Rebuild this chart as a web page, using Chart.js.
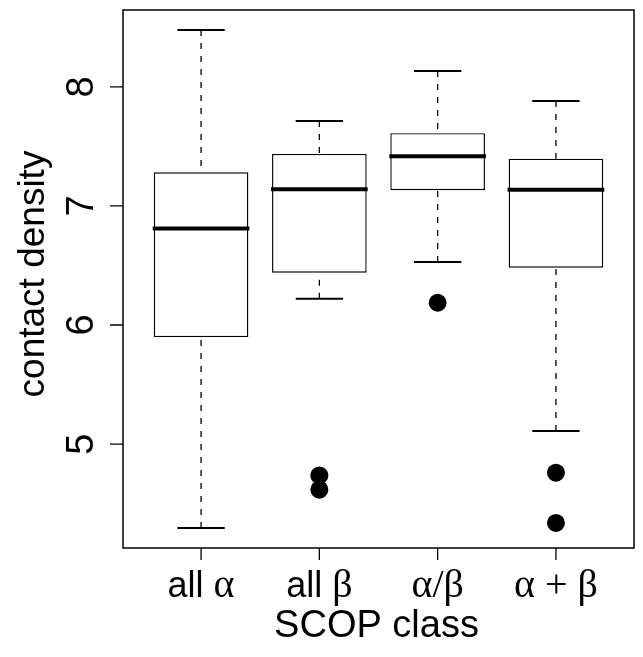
<!DOCTYPE html>
<html>
<head>
<meta charset="utf-8">
<script src="https://cdn.jsdelivr.net/npm/chart.js@4.4.1/dist/chart.umd.min.js"></script>
<style>
  html, body { margin: 0; padding: 0; background: #fff; overflow: hidden; }
  #wrap { width: 643px; height: 657px; position: relative; }
  canvas { display: block; }
</style>
</head>
<body>
<div id="wrap"><canvas id="boxChart"></canvas></div>
<script>
// SCOP classes and the box statistics
const classes = ['all α', 'all β', 'α/β', 'α + β'];
const whiskLo = [4.294, 6.221, 6.529, 5.109];
const q1 = [5.899, 6.440, 7.132, 6.482];
const median = [6.810, 7.140, 7.418, 7.137];
const q3 = [7.283, 7.437, 7.611, 7.397];
const whiskHi = [8.479, 7.714, 8.134, 7.882];
const outliers = [[], [4.737, 4.617], [6.187], [4.760, 4.338]];

const yTicks = [5, 6, 7, 8];
const xTicks = [1, 2, 3, 4];
const yMin = 4.127, yMax = 8.646;
const xMin = 0.34, xMax = 4.66;

const sans = '"Liberation Sans", Arial, sans-serif';
const serif = '"Liberation Serif", "Times New Roman", serif';

// split a label in runs: greek letters and math signs in serif, the rest in sans
function runsOf(text) {
    const runs = [];
    for (const ch of text) {
        let isSerif = /[\u0370-\u03ff\/+]/.test(ch);
        if (ch === ' ' && runs.length) isSerif = runs[runs.length - 1].serif;
        const last = runs[runs.length - 1];
        if (last && last.serif === isSerif) last.t += ch;
        else runs.push({ t: ch, serif: isSerif });
    }
    return runs;
}

function drawMixed(ctx, text, cx, base, size, greekSize) {
    const runs = runsOf(text);
    let total = 0;
    runs.forEach(r => {
        ctx.font = r.serif ? greekSize + 'px ' + serif : size + 'px ' + sans;
        r.w = ctx.measureText(r.t).width;
        total += r.w;
    });
    let xx = cx - total / 2;
    ctx.textAlign = 'left';
    ctx.textBaseline = 'alphabetic';
    runs.forEach(r => {
        ctx.font = r.serif ? greekSize + 'px ' + serif : size + 'px ' + sans;
        ctx.fillText(r.t, xx, base);
        xx += r.w;
    });
}

const boxExtras = {
    id: 'boxExtras',
    afterDatasetsDraw(chart) {
        const { ctx, chartArea: a, scales: { x, y } } = chart;
        const bars = chart.getDatasetMeta(0).data;
        ctx.save();
        ctx.strokeStyle = '#000';
        ctx.fillStyle = '#000';
        ctx.lineCap = 'butt';

        bars.forEach((bar, i) => {
            const cx = x.getPixelForValue(xTicks[i]);
            const w = bar.width;
            // dashed whiskers, from the whisker end toward the box
            ctx.lineWidth = 1.3;
            ctx.setLineDash([6, 7]);
            ctx.beginPath();
            ctx.moveTo(cx, y.getPixelForValue(whiskHi[i]));
            ctx.lineTo(cx, y.getPixelForValue(q3[i]));
            ctx.moveTo(cx, y.getPixelForValue(whiskLo[i]));
            ctx.lineTo(cx, y.getPixelForValue(q1[i]));
            ctx.stroke();
            ctx.setLineDash([]);
            // caps
            ctx.lineWidth = 2;
            ctx.beginPath();
            [whiskHi[i], whiskLo[i]].forEach(v => {
                const py = y.getPixelForValue(v);
                ctx.moveTo(cx - w / 4, py);
                ctx.lineTo(cx + w / 4, py);
            });
            ctx.stroke();
            // median
            ctx.lineWidth = 4;
            ctx.beginPath();
            const pm = y.getPixelForValue(median[i]);
            ctx.moveTo(cx - w / 2 - 1, pm);
            ctx.lineTo(cx + w / 2 + 1, pm);
            ctx.stroke();
        });

        // frame
        ctx.lineWidth = 1.5;
        ctx.strokeRect(a.left, a.top, a.right - a.left, a.bottom - a.top);

        // tick marks
        ctx.lineWidth = 1.3;
        ctx.beginPath();
        yTicks.forEach(v => {
            const py = y.getPixelForValue(v);
            ctx.moveTo(a.left - 13, py);
            ctx.lineTo(a.left, py);
        });
        xTicks.forEach(v => {
            const px = x.getPixelForValue(v);
            ctx.moveTo(px, a.bottom);
            ctx.lineTo(px, a.bottom + 12);
        });
        ctx.stroke();

        // y tick labels, parallel to the axis
        ctx.textAlign = 'center';
        ctx.textBaseline = 'alphabetic';
        ctx.font = '38px ' + sans;
        yTicks.forEach(v => {
            ctx.save();
            ctx.translate(a.left - 30, y.getPixelForValue(v));
            ctx.rotate(-Math.PI / 2);
            ctx.fillText(String(v), 0, 0);
            ctx.restore();
        });

        // x tick labels
        classes.forEach((c, i) => {
            drawMixed(ctx, c, x.getPixelForValue(xTicks[i]), a.bottom + 49, 36, 40);
        });

        // axis titles
        ctx.textAlign = 'center';
        ctx.font = '37px ' + sans;
        ctx.save();
        ctx.translate(a.left - 79, (a.top + a.bottom) / 2 - 5);
        ctx.rotate(-Math.PI / 2);
        ctx.fillText('contact density', 0, 0);
        ctx.restore();
        ctx.font = '38px ' + sans;
        ctx.fillText('SCOP class', (a.left + a.right) / 2 - 2, a.bottom + 89);

        ctx.restore();
    }
};

const ctx = document.getElementById('boxChart').getContext('2d');
const boxChart = new Chart(ctx, {
    type: 'bar',
    data: {
        datasets: [{
            label: 'box',
            data: q1.map((v, i) => ({ x: xTicks[i], y: [v, q3[i]] })),
            backgroundColor: '#fff',
            borderColor: '#000',
            borderWidth: 1.4,
            borderSkipped: false,
            barPercentage: 0.8,
            categoryPercentage: 1
        }, {
            type: 'scatter',
            label: 'outliers',
            data: outliers.flatMap((arr, i) => arr.map(v => ({ x: xTicks[i], y: v }))),
            backgroundColor: '#000',
            borderWidth: 0,
            pointRadius: 9,
            pointHoverRadius: 9
        }]
    },
    options: {
        responsive: true,
        maintainAspectRatio: false,
        animation: false,
        devicePixelRatio: 1,
        layout: { padding: { left: 123, top: 10, right: 1, bottom: 109 } },
        plugins: { legend: { display: false }, tooltip: { enabled: false } },
        scales: {
            x: {
                type: 'linear',
                display: false,
                offset: false,
                min: xMin,
                max: xMax,
                afterBuildTicks: s => { s.ticks = xTicks.map(v => ({ value: v })); }
            },
            y: {
                type: 'linear',
                display: false,
                min: yMin,
                max: yMax
            }
        }
    },
    plugins: [boxExtras]
});
</script>
</body>
</html>
